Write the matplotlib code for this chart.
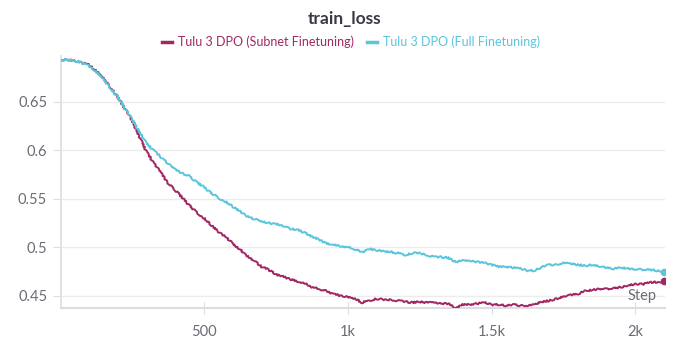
import matplotlib
matplotlib.use("Agg")
import matplotlib.pyplot as plt
from matplotlib.lines import Line2D
from matplotlib.ticker import FuncFormatter

plt.rcParams['font.family'] = ['Lato', 'DejaVu Sans']

steps = list(range(0, 2101, 25))

subnet_loss = [
    0.693, 0.693, 0.692, 0.690, 0.688, 0.682, 0.674, 0.665, 0.655, 0.643,
    0.631, 0.614, 0.599, 0.587, 0.577, 0.566, 0.559, 0.551, 0.543, 0.536,
    0.530, 0.523, 0.516, 0.511, 0.504, 0.498, 0.491, 0.486, 0.480, 0.477,
    0.472, 0.470, 0.467, 0.465, 0.463, 0.459, 0.457, 0.455, 0.452, 0.450,
    0.449, 0.447, 0.443, 0.445, 0.447, 0.446, 0.446, 0.445, 0.444, 0.443,
    0.444, 0.443, 0.443, 0.442, 0.442, 0.437, 0.441, 0.441, 0.442, 0.443,
    0.441, 0.441, 0.440, 0.441, 0.440, 0.440, 0.441, 0.444, 0.445, 0.447,
    0.449, 0.451, 0.452, 0.455, 0.456, 0.457, 0.457, 0.458, 0.459, 0.461,
    0.462, 0.462, 0.464, 0.464, 0.465,
]

full_loss = [
    0.693, 0.693, 0.692, 0.690, 0.687, 0.681, 0.673, 0.664, 0.655, 0.643,
    0.632, 0.619, 0.607, 0.600, 0.593, 0.586, 0.580, 0.576, 0.573, 0.567,
    0.562, 0.556, 0.551, 0.547, 0.542, 0.537, 0.532, 0.529, 0.527, 0.525,
    0.524, 0.522, 0.519, 0.518, 0.515, 0.511, 0.508, 0.504, 0.503, 0.501,
    0.500, 0.498, 0.495, 0.498, 0.497, 0.496, 0.495, 0.494, 0.492, 0.494,
    0.494, 0.492, 0.490, 0.490, 0.489, 0.485, 0.486, 0.486, 0.485, 0.484,
    0.482, 0.480, 0.480, 0.479, 0.478, 0.476, 0.476, 0.480, 0.482, 0.482,
    0.484, 0.483, 0.482, 0.481, 0.482, 0.480, 0.479, 0.478, 0.479, 0.478,
    0.477, 0.477, 0.477, 0.476, 0.475,
]

labels = ["Tulu 3 DPO (Subnet Finetuning)", "Tulu 3 DPO (Full Finetuning)"]
colors = ["#A12864", "#5BC5DB"]

fig = plt.figure(figsize=(6.94, 3.58), dpi=100)
ax = fig.add_axes([0.088, 0.14, 0.87, 0.704])

handles = []
for ys, lab, col in zip([subnet_loss, full_loss], labels, colors):
    line, = ax.plot(steps, ys, color=col, lw=1.4, zorder=3)
    line.set_sketch_params(scale=0.8, length=3, randomness=6)
    ax.plot(steps[-1], ys[-1], 'o', color=col, ms=4.5, zorder=4)
    handles.append(Line2D([], [], color=col, lw=2.5, label=lab))

ax.set_xlim(4, 2102)
ax.set_ylim(0.4376, 0.697)
ax.set_xticks([500, 1000, 1500, 2000])
ax.set_yticks([0.45, 0.5, 0.55, 0.6, 0.65])
ax.xaxis.set_major_formatter(FuncFormatter(
    lambda v, p: f"{v/1000:g}k" if v >= 1000 else f"{v:g}"))
ax.yaxis.set_major_formatter(FuncFormatter(lambda v, p: f"{v:g}"))

ax.grid(axis='y', color='#ececec', lw=1)
ax.set_axisbelow(True)
for s in ['top', 'right']:
    ax.spines[s].set_visible(False)
ax.spines['left'].set_color('#dcdce2')
ax.spines['bottom'].set_color('#dcdce2')
ax.spines['left'].set_linewidth(1.2)
ax.spines['bottom'].set_linewidth(1.5)
ax.tick_params(axis='y', colors='#dcdce2', labelcolor='#6b6b76',
               labelsize=10.5, length=6, pad=4)
ax.tick_params(axis='x', colors='#dcdce2', labelcolor='#6b6b76',
               labelsize=10.5, length=8, direction='inout', pad=8)

ax.text(0.987, 0.018, "Step", transform=ax.transAxes, ha='right',
        va='bottom', color='#6b6b76', fontsize=10.5)

fig.text(0.497, 0.948, "train_loss", ha='center', va='center',
         fontsize=12.5, fontweight='bold', color='#3a3a44')
fig.legend(handles=handles, loc='center', bbox_to_anchor=(0.506, 0.883),
           ncol=2, frameon=False, fontsize=9, handlelength=0.8,
           handletextpad=0.5, columnspacing=1.0, labelcolor='linecolor')

fig.savefig("out.png", dpi=100, facecolor='white')
